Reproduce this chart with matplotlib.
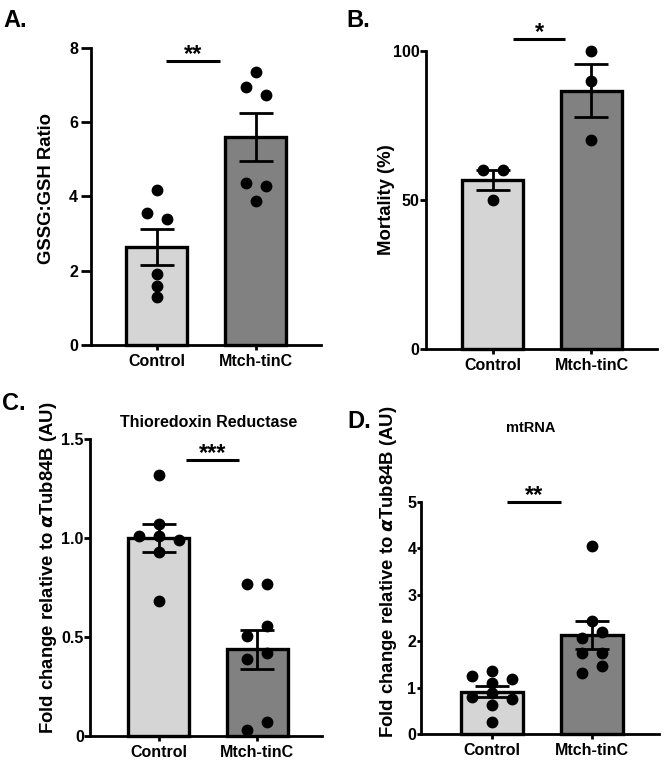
import matplotlib
matplotlib.use('Agg')
import matplotlib.pyplot as plt
import numpy as np

plt.rcParams['font.family'] = ['Liberation Sans', 'DejaVu Sans']
plt.rcParams['font.weight'] = 'bold'
plt.rcParams['axes.labelweight'] = 'bold'

groups = ['Control', 'Mtch-tinC']

# A. GSSG:GSH ratio (one value per replicate)
gssg_ctrl = [4.17, 3.38, 3.54, 1.90, 1.59, 1.29]
gssg_mtch = [7.35, 6.73, 6.95, 4.29, 4.36, 3.87]

# B. mortality (%)
mort_ctrl = [60, 60, 50]
mort_mtch = [100, 90, 70]

# C. thioredoxin reductase, fold change
trx_ctrl = [1.32, 1.07, 1.01, 1.01, 0.99, 0.93, 0.68]
trx_mtch = [0.77, 0.77, 0.556, 0.507, 0.42, 0.39, 0.07, 0.03]

# D. mtRNA, fold change
mt_ctrl = [1.362, 1.104, 0.876, 0.624, 0.265, 1.248, 1.184, 0.79, 0.747]
mt_mtch = [4.04, 2.43, 2.20, 2.07, 1.74, 1.74, 1.47, 1.31]

W, H = 667, 764
LIGHT = '#d5d5d5'
DARK = '#818181'


def px_rect(l, t, r, b):
    return [l / W, (H - b) / H, (r - l) / W, (b - t) / H]


def swarm(ax, vals, step=20.0, thr=10.2):
    # simple beeswarm in pixel space, then centre lone side-by-side pairs
    t = ax.transData
    pxx = t.transform((1, 0))[0] - t.transform((0, 0))[0]
    pxy = t.transform((0, 1))[1] - t.transform((0, 0))[1]
    y = np.asarray(vals, float) * pxy
    offs = []
    for i, yi in enumerate(y):
        k = 0
        while True:
            c = 0 if k == 0 else (-1) ** k * step * ((k + 1) // 2)
            if all(np.hypot(c - offs[j], yi - y[j]) >= thr for j in range(i)):
                offs.append(c)
                break
            k += 1
    offs = np.array(offs)
    new = offs.copy()
    centres = [i for i in range(len(y)) if offs[i] == 0]
    for c in centres:
        nb = [j for j in range(len(y)) if offs[j] != 0 and abs(y[j] - y[c]) < thr]
        if not nb:
            continue
        signs = set(np.sign(offs[nb]))
        if len(signs) != 1:
            continue
        if all(sum(abs(y[k] - y[j]) < thr for k in centres) == 1 for j in nb):
            s = signs.pop()
            new[c] -= s * step / 2
            for j in nb:
                new[j] -= s * step / 2
    return new / pxx


def panel(ax, ctrl, mtch, xlim, ylim, yticks, yticklabels, ylabel, label_xy,
          sig, tick_len, tick_pad):
    x = np.arange(len(groups))
    data = [np.array(ctrl, float), np.array(mtch, float)]
    means = [d.mean() for d in data]
    sems = [d.std(ddof=1) / np.sqrt(len(d)) for d in data]
    ax.set_xlim(xlim)
    ax.set_ylim(ylim)
    ax.bar(x, means, width=0.62, color=[LIGHT, DARK], edgecolor='black',
           linewidth=2.4, zorder=2, clip_on=False)
    ax.errorbar(x, means, yerr=sems, fmt='none', ecolor='black', elinewidth=2,
                capsize=12.5, capthick=2, zorder=3, clip_on=False)
    for xi, d in zip(x, data):
        off = swarm(ax, d)
        ax.plot(xi + off, d, 'o', color='black', ms=7.5, zorder=4, clip_on=False)

    for s in ['top', 'right']:
        ax.spines[s].set_visible(False)
    for s in ['left', 'bottom']:
        ax.spines[s].set_linewidth(2)
    ax.set_xticks(x)
    ax.set_xticklabels(groups)
    ax.set_yticks(yticks)
    ax.set_yticklabels(yticklabels)
    ax.tick_params(axis='y', length=tick_len, width=2, pad=tick_pad, labelsize=11.5)
    ax.tick_params(axis='x', length=3.5, width=2, pad=3, labelsize=11.5)
    ax.set_ylabel(ylabel, fontsize=13.3)
    ax.yaxis.set_label_coords(*label_xy)
    ax.yaxis.label.set_verticalalignment('center')

    x0, x1, ys, stars = sig
    ax.plot([x0, x1], [ys, ys], color='black', lw=2.2, clip_on=False,
            solid_capstyle='butt')
    ax.text((x0 + x1) / 2, ys, stars, ha='center', va='baseline', fontsize=17)


fig = plt.figure(figsize=(W / 100, H / 100), dpi=100)

axA = fig.add_axes(px_rect(90.7, 47.7, 320.7, 345))
panel(axA, gssg_ctrl, gssg_mtch, (-0.667, 1.657), (0, 8), [0, 2, 4, 6, 8],
      ['0', '2', '4', '6', '8'], 'GSSG:GSH Ratio', (-0.194, 0.528),
      (0.09, 0.64, 7.63, '**'), 7, 2)

axB = fig.add_axes(px_rect(426.3, 51, 656.7, 348.7))
panel(axB, mort_ctrl, mort_mtch, (-0.671, 1.66), (0, 100), [0, 50, 100],
      ['0', '50', '100'], 'Mortality (%)', (-0.173, 0.5),
      (0.205, 0.737, 104, '*'), 4.5, 0.5)

axC = fig.add_axes(px_rect(90, 439, 321.7, 736))
panel(axC, trx_ctrl, trx_mtch, (-0.697, 1.653), (0, 1.5), [0, 0.5, 1.0, 1.5],
      ['0', '0.5', '1.0', '1.5'], r'Fold change relative to $\alpha$Tub84B (AU)',
      (-0.178, 0.566), (0.277, 0.817, 1.394, '***'), 4, 0.5)
axC.text(0.514, 1.041, 'Thioredoxin Reductase', transform=axC.transAxes,
         ha='center', va='baseline', fontsize=11.5)

axD = fig.add_axes(px_rect(421.3, 501.7, 659, 734))
panel(axD, mt_ctrl, mt_mtch, (-0.704, 1.673), (0, 5), [0, 1, 2, 3, 4, 5],
      ['0', '1', '2', '3', '4', '5'], r'Fold change relative to $\alpha$Tub84B (AU)',
      (-0.138, 0.697), (0.15, 0.69, 5.0, '**'), 3, 0.5)
axD.text(0.46, 1.301, 'mtRNA', transform=axD.transAxes,
         ha='center', va='baseline', fontsize=10.5)

for txt, xp, yp in [('A.', 3, 26.7), ('B.', 346.7, 26.7),
                    ('C.', 1.7, 410), ('D.', 347.3, 428.3)]:
    fig.text(xp / W, 1 - yp / H, txt, fontsize=17, va='baseline')

fig.savefig('out.png', dpi=100)
